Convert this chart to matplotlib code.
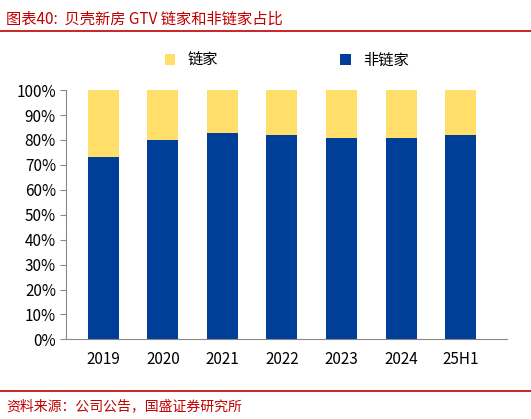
import matplotlib.pyplot as plt
from matplotlib.ticker import PercentFormatter
from matplotlib.lines import Line2D

plt.rcParams['font.family'] = ['Noto Sans CJK SC', 'DejaVu Sans']

years = ['2019', '2020', '2021', '2022', '2023', '2024', '25H1']
non_lianjia = [73.2, 80.0, 82.8, 82.0, 80.8, 80.8, 82.0]
lianjia = [100 - v for v in non_lianjia]

blue = '#003F97'
yellow = '#FFDF6A'
red = '#C00000'

fig = plt.figure(figsize=(5.31, 4.19), dpi=100)
ax = fig.add_axes([0.125, 0.19, 0.83, 0.595])

ax.bar(years, non_lianjia, width=0.52, color=blue, label='非链家')
ax.bar(years, lianjia, width=0.52, bottom=non_lianjia, color=yellow, label='链家')

ax.set_ylim(0, 100)
ax.set_xlim(-0.62, 6.78)
ax.set_yticks(range(0, 101, 10))
ax.yaxis.set_major_formatter(PercentFormatter(decimals=0))
for s in ['top', 'right']:
    ax.spines[s].set_visible(False)
ax.spines['left'].set_color('#888888')
ax.spines['bottom'].set_color('#888888')
ax.tick_params(axis='y', length=4, color='#888888', labelsize=11)
ax.tick_params(axis='x', length=0, labelsize=11, pad=8)

h, l = ax.get_legend_handles_labels()
ax.legend(h[::-1], l[::-1], loc='lower center', bbox_to_anchor=(0.5, 1.03), ncol=2,
          frameon=False, fontsize=11, handlelength=0.7, handleheight=0.7, columnspacing=8)

fig.text(0.012, 0.955, '图表40:  贝壳新房 GTV 链家和非链家占比', color=red, fontsize=11,
         style='italic', va='center')
fig.add_artist(Line2D([0.0, 1.0], [0.925, 0.925], color=red, lw=1.2))
fig.add_artist(Line2D([0.0, 1.0], [0.068, 0.068], color=red, lw=1.2))
fig.text(0.012, 0.03, '资料来源：公司公告，国盛证券研究所', color=red, fontsize=10,
         style='italic', va='center')

fig.savefig('out.png', dpi=100)
